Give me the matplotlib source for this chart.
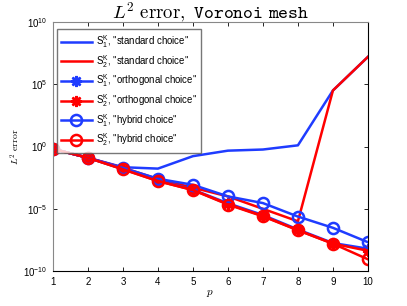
import numpy as np
import matplotlib
matplotlib.use("Agg")
import matplotlib.pyplot as plt
from matplotlib.ticker import FixedLocator, FuncFormatter, NullLocator

# polynomial degree
p = [1, 2, 3, 4, 5, 6, 7, 8, 9, 10]

# L2 errors
s1_standard = [0.65, 0.126, 0.022, 0.017, 0.17, 0.47, 0.58, 1.26, 3.2e4, 1.6e7]
s2_standard = [0.65, 0.126, 0.02, 2.5e-3, 5e-4, 1e-4, 1e-5, 1e-6, 3.2e4, 1.6e7]
s1_orthogonal = [0.65, 0.126, 0.016, 2e-3, 3.5e-4, 2.8e-5, 3.2e-6, 2.2e-7, 1.8e-8, 6.3e-9]
s2_orthogonal = [0.65, 0.126, 0.015, 1.7e-3, 3.3e-4, 2.4e-5, 2.7e-6, 1.95e-7, 1.6e-8, 4.3e-9]
s1_hybrid = [0.65, 0.126, 0.0195, 2.6e-3, 8.5e-4, 1e-4, 2.9e-5, 2.4e-6, 3e-7, 2.1e-8]
s2_hybrid = [0.65, 0.126, 0.015, 1.7e-3, 3.2e-4, 2.2e-5, 2.5e-6, 1.9e-7, 1.6e-8, 8.9e-10]

labels = [
    r'$\mathregular{S_1^K}$, "standard choice"',
    r'$\mathregular{S_2^K}$, "standard choice"',
    r'$\mathregular{S_1^K}$, "orthogonal choice"',
    r'$\mathregular{S_2^K}$, "orthogonal choice"',
    r'$\mathregular{S_1^K}$, "hybrid choice"',
    r'$\mathregular{S_2^K}$, "hybrid choice"',
]

plt.rcParams['font.family'] = ['Liberation Sans', 'DejaVu Sans']
plt.rcParams['mathtext.fontset'] = 'cm'

blue = '#1f3cff'
red = '#ff0000'
asterisk = (8, 2, 0)

fig = plt.figure(figsize=(4.07, 3.06), dpi=100)
ax = fig.add_axes([0.130, 0.114, 0.774, 0.814])

lw = 1.8
ax.semilogy(p, s1_standard, color=blue, lw=lw, label=labels[0])
ax.semilogy(p, s2_standard, color=red, lw=lw, label=labels[1])
ax.semilogy(p, s1_orthogonal, color=blue, lw=lw, marker=asterisk, ms=8, mew=1.8, label=labels[2])
ax.semilogy(p, s2_orthogonal, color=red, lw=lw, marker=asterisk, ms=8, mew=1.8, label=labels[3])
ax.semilogy(p, s1_hybrid, color=blue, lw=lw, marker='o', ms=8, mfc='none', mew=1.8, label=labels[4])
ax.semilogy(p, s2_hybrid, color=red, lw=lw, marker='o', ms=8, mfc='none', mew=1.8, label=labels[5])

ax.set_xlim(1, 10)
ax.set_ylim(1e-10, 1e10)
ax.set_xticks(p)
ax.yaxis.set_major_locator(FixedLocator([1e-10, 1e-5, 1, 1e5, 1e10]))
ax.yaxis.set_minor_locator(NullLocator())
ax.yaxis.set_major_formatter(FuncFormatter(lambda v, pos: r'$\mathregular{10^{%d}}$' % round(np.log10(v))))
ax.tick_params(direction='in', top=True, right=True, labelsize=7, length=3, width=0.6, pad=4)

for side in ['top', 'left']:
    ax.spines[side].set_color('#888888')
for s in ax.spines.values():
    s.set_linewidth(0.8)

ax.set_title(r'$L^2\ \mathrm{error},\ \mathtt{Voronoi\ mesh}$', fontsize=13.5, pad=2)
ax.set_xlabel(r'$p$', fontsize=8, labelpad=1)
ax.set_ylabel(r'$L^2\ \mathrm{error}$', fontsize=7, labelpad=1)

leg = ax.legend(loc='upper left', bbox_to_anchor=(0.012, 0.972), borderaxespad=0,
                fontsize=6.9, frameon=True, fancybox=False,
                edgecolor='#555555', handlelength=3.2, labelspacing=0.3,
                handletextpad=0.4, borderpad=0.45)
leg.get_frame().set_linewidth(1.0)

fig.savefig('out.png', dpi=100)
